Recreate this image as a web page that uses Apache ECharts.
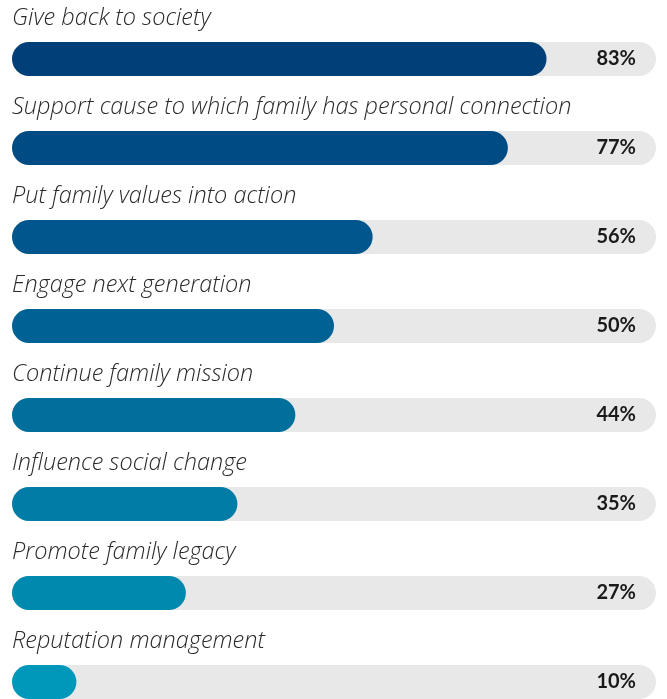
<!DOCTYPE html>
<html>
	<head>
		<meta charset="UTF-8">
		<title></title>
		<script src="https://cdn.jsdelivr.net/npm/echarts@6/dist/echarts.min.js"></script>
		<style>
			html, body { margin: 0; padding: 0; background: #fff; }
			#main { width: 667px; height: 699px; }
		</style>
	</head>
	<body>
		<div id="main"></div>
		<script type="text/javascript">
			var categories = ['Give back to society', 'Support cause to which family has personal connection',
				'Put family values into action', 'Engage next generation', 'Continue family mission',
				'Influence social change', 'Promote family legacy', 'Reputation management'];
			var values = [83, 77, 56, 50, 44, 35, 27, 10];
			var barColors = ['#003f78', '#004b84', '#00568d', '#006294', '#006f9c', '#007ca6', '#0089ae', '#0098ba'];

			var chart = echarts.init(document.getElementById('main'));

			// 灰色底条，百分比写在右端
			var track = values.map(function(v) { return 100; });
			var bars = values.map(function(v, i) {
				return { value: v, itemStyle: { color: barColors[i] } };
			});

			chart.setOption({
				animation: false,
				grid: { left: 12, right: 11, top: 14.5, height: 712, outerBoundsMode: 'none' },
				xAxis: { type: 'value', min: 0, max: 100, show: false },
				yAxis: {
					type: 'category',
					data: categories,
					inverse: true,
					show: false
				},
				series: [{
					type: 'bar',
					data: track,
					barWidth: 34,
					barGap: '-100%',
					silent: true,
					itemStyle: { color: '#e8e8e8', borderRadius: 17 },
					label: {
						show: true,
						position: 'insideRight',
						distance: 20,
						formatter: function(p) { return values[p.dataIndex] + '%'; },
						fontFamily: 'Lato',
						fontWeight: 'bold',
						fontSize: 20,
						color: '#1a1a1a'
					},
					z: 1
				}, {
					type: 'bar',
					data: bars,
					barWidth: 34,
					barGap: '-100%',
					itemStyle: { borderRadius: 17 },
					label: {
						show: true,
						position: [0, -24],
						verticalAlign: 'middle',
						align: 'left',
						formatter: function(p) { return categories[p.dataIndex]; },
						fontFamily: 'Open Sans',
						fontStyle: 'italic',
						fontWeight: 300,
						fontSize: 23.5,
						color: '#2a2a2a'
					},
					z: 2
				}]
			});
		</script>
	</body>
</html>
